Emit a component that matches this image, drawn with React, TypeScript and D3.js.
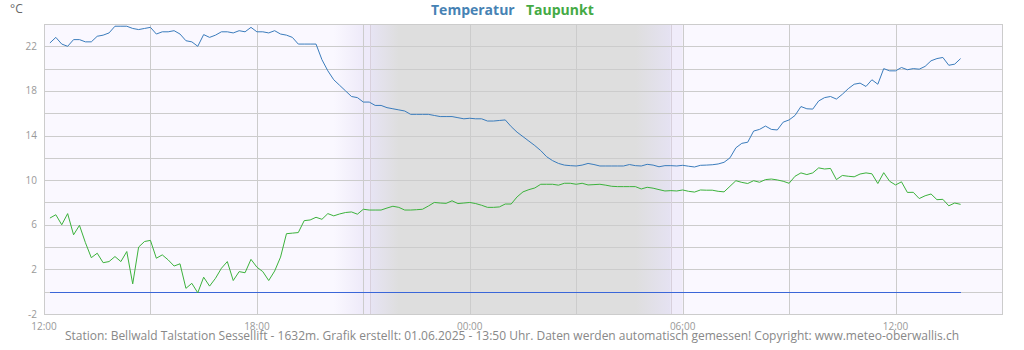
import * as d3 from "d3";

// 10-minute readings from 31.05. 12:10 to 01.06. 13:50
const startTime = new Date(2025, 4, 31, 12, 10);
const stepMinutes = 10;

const temperature = [
  22.3, 22.8, 22.2, 22.0, 22.6, 22.6, 22.4, 22.4, 22.9, 23.0,
  23.2, 23.8, 23.8, 23.8, 23.6, 23.5, 23.6, 23.7, 23.1, 23.3,
  23.3, 23.4, 23.1, 22.5, 22.4, 22.0, 23.05, 22.8, 23.0, 23.3,
  23.3, 23.2, 23.4, 23.3, 23.7, 23.3, 23.3, 23.2, 23.4, 23.1,
  23.0, 22.8, 22.2, 22.2, 22.2, 22.2, 20.8, 19.8, 19.0, 18.5,
  18.0, 17.5, 17.4, 17.0, 17.0, 16.7, 16.7, 16.5, 16.4, 16.3,
  16.2, 15.9, 15.9, 15.9, 15.9, 15.8, 15.7, 15.7, 15.7, 15.6,
  15.5, 15.55, 15.5, 15.5, 15.3, 15.3, 15.35, 15.4, 14.8, 14.3,
  13.9, 13.5, 13.1, 12.65, 12.1, 11.75, 11.5, 11.35, 11.3, 11.27,
  11.35, 11.5, 11.4, 11.27, 11.27, 11.27, 11.27, 11.27, 11.4, 11.3,
  11.27, 11.42, 11.35, 11.2, 11.3, 11.3, 11.27, 11.33, 11.25, 11.18,
  11.33, 11.35, 11.38, 11.45, 11.6, 12.0, 12.9, 13.3, 13.4, 14.4,
  14.55, 14.85, 14.55, 14.5, 15.2, 15.4, 15.8, 16.6, 16.4, 16.37,
  17.1, 17.4, 17.5, 17.27, 17.7, 18.2, 18.6, 18.7, 18.4, 19.0,
  18.6, 20.0, 19.8, 19.8, 20.1, 19.9, 20.0, 19.95, 20.2, 20.7,
  20.9, 21.0, 20.3, 20.4, 20.9,
];

const dewPoint = [
  6.6, 6.9, 6.0, 7.0, 5.1, 5.95, 4.4, 3.05, 3.45, 2.6,
  2.7, 3.15, 2.7, 3.6, 0.7, 4.0, 4.5, 4.6, 3.0, 3.3,
  2.85, 2.3, 2.5, 0.3, 0.75, -0.1, 1.3, 0.5, 1.2, 2.1,
  2.7, 1.0, 1.8, 1.7, 2.9, 2.2, 1.8, 1.0, 1.85, 3.1,
  5.2, 5.25, 5.3, 6.37, 6.43, 6.67, 6.49, 7.0, 6.8, 6.97,
  7.1, 7.15, 6.95, 7.39, 7.32, 7.32, 7.32, 7.5, 7.66, 7.56,
  7.32, 7.32, 7.35, 7.39, 7.68, 8.0, 7.95, 7.92, 8.15, 7.9,
  7.95, 8.0, 7.9, 7.75, 7.56, 7.56, 7.6, 7.86, 7.86, 8.5,
  8.95, 9.15, 9.3, 9.63, 9.63, 9.63, 9.55, 9.72, 9.72, 9.63,
  9.72, 9.57, 9.6, 9.63, 9.55, 9.45, 9.42, 9.42, 9.42, 9.42,
  9.21, 9.36, 9.28, 9.15, 9.03, 9.06, 9.03, 9.12, 9.0, 8.93,
  9.12, 9.1, 9.1, 9.0, 8.95, 9.45, 9.95, 9.8, 9.7, 9.95,
  9.81, 10.05, 10.1, 10.02, 9.9, 9.72, 10.35, 10.65, 10.5, 10.65,
  11.1, 11.0, 11.05, 10.05, 10.42, 10.35, 10.3, 10.55, 10.65, 10.57,
  9.7, 10.67, 9.9, 9.57, 9.85, 8.9, 8.91, 8.35, 8.6, 8.76,
  8.25, 8.28, 7.7, 7.95, 7.83,
];

const zeroLevel = 0;

const yTickValues = [22, 18, 14, 10, 6, 2, -2];
const xTickLabels = ["12:00", "18:00", "00:00", "06:00", "12:00"];

const seriesNames = ["Temperatur", "Taupunkt"];
const footer =
  "Station: Bellwald Talstation Sessellift - 1632m. Grafik erstellt: 01.06.2025 - 13:50 Uhr. Daten werden automatisch gemessen! Copyright: www.meteo-oberwallis.ch";

const W = 1024;
const H = 350;
const left = 44;
const right = 1002;
const top = 24;
const bottom = 314;
const font = "'Open Sans', sans-serif";

const t = (d: number, h: number, m: number) => new Date(2025, 4, d, h, m);

const App = () => {
  const times = temperature.map(
    (_, i) => new Date(startTime.getTime() + i * stepMinutes * 60000)
  );

  const x = d3.scaleTime().domain([t(31, 12, 0), t(32, 15, 0)]).range([left, right]);
  const y = d3.scaleLinear().domain([-2, 24]).range([bottom, top]);

  const gridX = d3.timeHour.every(3)!.range(t(31, 12, 0), t(32, 15, 1));
  const labelX = d3.timeHour.every(6)!.range(t(31, 12, 0), t(32, 15, 1));
  const gridY = d3.range(-2, 25, 2);

  const line = d3
    .line<number>()
    .x((_, i) => x(times[i]))
    .y((d) => y(d));

  // night shading
  const fadeStart = x(t(31, 20, 10));
  const dusk = x(t(31, 21, 0));
  const sunset = x(t(31, 21, 12));
  const sunrise = x(t(32, 5, 40));
  const morning = x(t(32, 6, 0));
  const nightSpan = sunrise - sunset;
  const darkFrom = x(t(31, 22, 0));
  const darkTo = x(t(32, 4, 40));

  const px = (v: number) => Math.round(v) + 0.5;

  return (
    <svg
      width={W}
      height={H}
      style={{ position: "absolute", left: 0, top: 0, display: "block" }}
      fontFamily={font}
    >
      <defs>
        <linearGradient id="fadeIn" x1="0" x2="1" y1="0" y2="0">
          <stop offset="0" stopColor="#faf8ff" />
          <stop offset="1" stopColor="#eeeaf9" />
        </linearGradient>
        <linearGradient id="night" x1="0" x2="1" y1="0" y2="0">
          <stop offset="0" stopColor="#e7e4f4" />
          <stop offset={(darkFrom - sunset) / nightSpan} stopColor="#dedede" />
          <stop offset={(darkTo - sunset) / nightSpan} stopColor="#dedede" />
          <stop offset="1" stopColor="#e5e2f2" />
        </linearGradient>
      </defs>

      <rect x={left} y={top} width={right - left} height={bottom - top} fill="#faf8ff" />
      <rect x={fadeStart} y={top} width={dusk - fadeStart} height={bottom - top} fill="url(#fadeIn)" />
      <rect x={dusk} y={top} width={sunset - dusk} height={bottom - top} fill="#eeeaf9" />
      <rect x={sunset} y={top} width={nightSpan} height={bottom - top} fill="url(#night)" />
      <rect x={sunrise} y={top} width={morning - sunrise} height={bottom - top} fill="#f0ecfa" />

      <g stroke="#cccccc" strokeWidth={1} shapeRendering="crispEdges">
        {gridY.map((v) => (
          <line key={"h" + v} x1={left} x2={right} y1={px(y(v))} y2={px(y(v))} />
        ))}
        {gridX.map((d) => (
          <line key={"v" + d.getTime()} x1={px(x(d))} x2={px(x(d))} y1={top} y2={bottom} />
        ))}
        <line x1={px(sunset)} x2={px(sunset)} y1={top} y2={bottom} stroke="#d8d0dc" />
        <line x1={px(sunrise)} x2={px(sunrise)} y1={top} y2={bottom} stroke="#d8d0dc" />
        <rect x={left + 0.5} y={top + 0.5} width={right - left} height={bottom - top} fill="none" />
      </g>

      <line
        x1={x(times[0])}
        x2={x(times[times.length - 1])}
        y1={px(y(zeroLevel))}
        y2={px(y(zeroLevel))}
        stroke="#3a66d8"
        strokeWidth={1}
        shapeRendering="crispEdges"
      />
      <path d={line(dewPoint) ?? ""} fill="none" stroke="#3cb23c" strokeWidth={1} />
      <path d={line(temperature) ?? ""} fill="none" stroke="#3a7cbc" strokeWidth={1} />

      <g fontSize={10} fill="#999" textAnchor="end">
        {yTickValues.map((v) => (
          <text key={v} x={37} y={y(v) + 3.5}>
            {v}
          </text>
        ))}
      </g>
      <g fontSize={10} fill="#999" textAnchor="middle">
        {labelX.map((d, i) => (
          <text key={i} x={x(d)} y={330}>
            {xTickLabels[i]}
          </text>
        ))}
      </g>

      <text x={10} y={13} fontSize={12} fill="#666">
        °C
      </text>
      <text x={431} y={15} fontSize={14} fontWeight="bold" fill="#4682b4">
        {seriesNames[0]}
      </text>
      <text x={526} y={15} fontSize={14} fontWeight="bold" fill="#44aa44">
        {seriesNames[1]}
      </text>

      <text x={512} y={340} fontSize={12} fill="#888" textAnchor="middle">
        {footer}
      </text>
    </svg>
  );
};

export default App;
